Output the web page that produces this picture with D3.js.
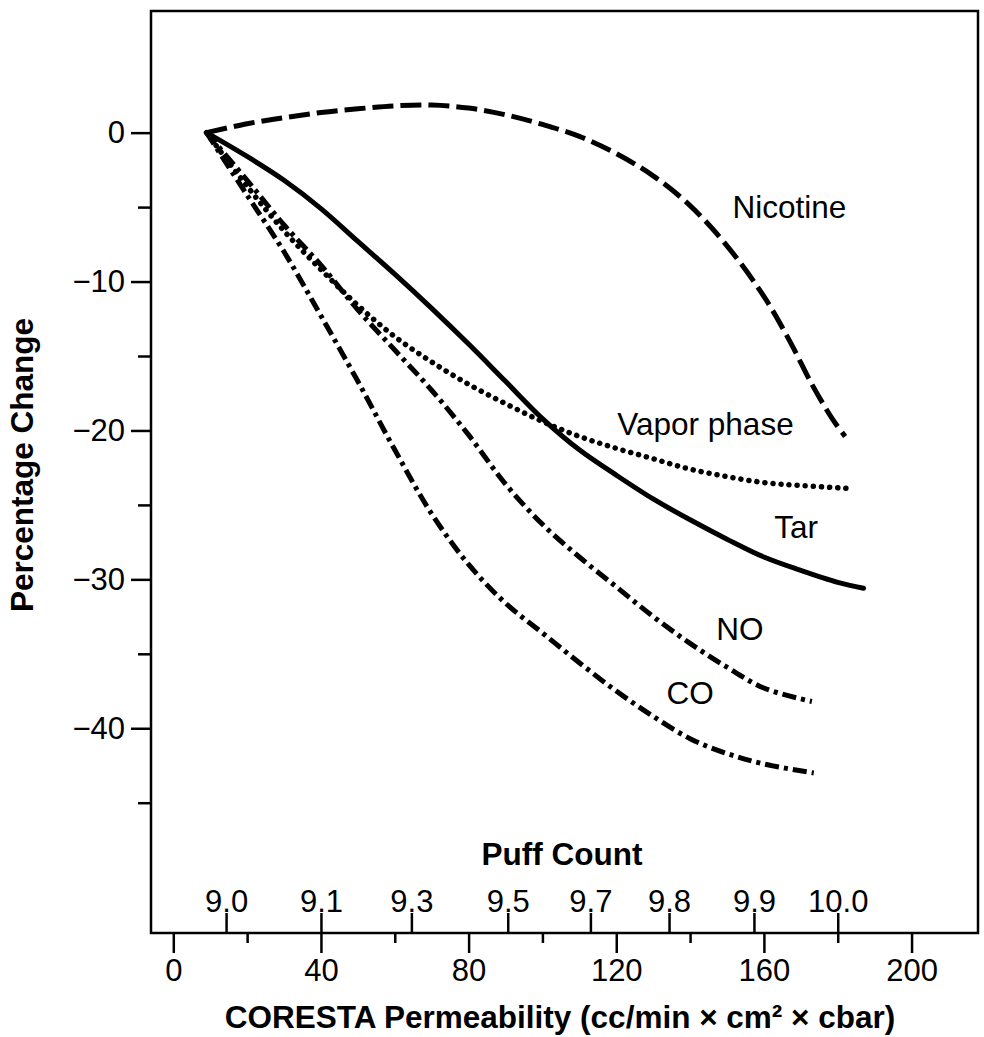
<!DOCTYPE html>
<html>
<head>
<meta charset="utf-8">
<script src="https://cdn.jsdelivr.net/npm/d3@7"></script>
<style>
  html, body { margin: 0; padding: 0; background: #fff; }
  svg { display: block; font-family: "Liberation Sans", Arial, Helvetica, sans-serif; }
</style>
</head>
<body>
<svg id="chart" width="984" height="1037"></svg>
<script>
// ---------------- DATA ----------------
// Series: [CORESTA permeability, percentage change]
const nicotine = [[9,0],[20,0.6],[30,1.0],[40,1.35],[50,1.6],[60,1.8],[70,1.85],[80,1.65],[90,1.2],[100,0.55],[110,-0.25],[120,-1.4],[130,-2.9],[140,-4.9],[150,-7.6],[160,-11.0],[167,-14.0],[173,-16.9],[178.5,-19.2],[182,-20.4]];
const vapor    = [[9,0],[20,-3.6],[30,-6.6],[40,-9.2],[50,-11.6],[60,-13.7],[70,-15.4],[80,-16.9],[90,-18.2],[100,-19.4],[110,-20.4],[120,-21.2],[130,-21.9],[140,-22.6],[150,-23.1],[160,-23.5],[170,-23.7],[184,-23.9]];
const tar      = [[9,0],[20,-1.6],[30,-3.2],[40,-5.1],[50,-7.3],[60,-9.5],[70,-11.8],[80,-14.2],[90,-16.7],[100,-19.2],[110,-21.3],[120,-23.0],[130,-24.6],[140,-26.0],[150,-27.3],[160,-28.5],[170,-29.4],[180,-30.2],[187,-30.6]];
const no       = [[9,0],[20,-3.2],[30,-6.2],[40,-8.9],[50,-11.9],[60,-14.6],[70,-17.3],[80,-20.3],[90,-23.6],[100,-26.3],[110,-28.5],[120,-30.5],[130,-32.5],[140,-34.3],[150,-35.9],[160,-37.3],[173,-38.2]];
const co       = [[9,0],[20,-4.2],[30,-8.0],[40,-12.3],[50,-16.7],[60,-21.3],[70,-25.6],[80,-29.0],[90,-31.6],[100,-33.6],[110,-35.6],[120,-37.5],[130,-39.2],[140,-40.7],[150,-41.7],[160,-42.4],[173.5,-43.0]];

const seriesNames = ["Nicotine", "Vapor phase", "Tar", "NO", "CO"];

// Axis ticks
const yMajorTicks = [0, -10, -20, -30, -40];
const yMinorTicks = [-5, -15, -25, -35, -45];
const corestaMajorTicks = [0, 40, 80, 120, 160, 200];
const corestaMinorTicks = [20, 60, 100, 140, 180];
const puffLabels = ["9.0", "9.1", "9.3", "9.5", "9.7", "9.8", "9.9", "10.0"];
const puffPositions = [14.3, 40, 64.5, 90.6, 113, 134.3, 157.3, 180]; // on the CORESTA scale

// ---------------- LAYOUT ----------------
const W = 984, H = 1037;
const margin = { left: 151, top: 11, right: 6, bottom: 104 };
const iw = W - margin.left - margin.right;
const ih = H - margin.top - margin.bottom;

const svg = d3.select("#chart");
const g = svg.append("g").attr("transform", `translate(${margin.left},${margin.top})`);

const x = d3.scaleLinear().domain([-6.04, 218.0]).range([0, iw]);
const y = d3.scaleLinear().domain([8.17, -53.75]).range([0, ih]);

const tickFont = 31;
const FONT = "Liberation Sans, Arial, sans-serif";

function styleAxis(sel) {
  sel.select(".domain").remove();
  sel.selectAll("line").attr("stroke", "#000").attr("stroke-width", 2.5);
  sel.selectAll("text").attr("font-size", tickFont).attr("fill", "#000").attr("font-family", FONT);
}

// Y axis major
g.append("g")
  .call(d3.axisLeft(y).tickValues(yMajorTicks).tickSize(20).tickPadding(6).tickFormat(d3.format("d")))
  .call(styleAxis);

// Y axis minor
g.append("g")
  .call(d3.axisLeft(y).tickValues(yMinorTicks).tickSize(13).tickFormat(""))
  .call(styleAxis);

// Bottom CORESTA axis (major)
g.append("g").attr("transform", `translate(0,${ih})`)
  .call(d3.axisBottom(x).tickValues(corestaMajorTicks).tickSize(20).tickPadding(6).tickFormat(d3.format("d")))
  .call(styleAxis);

// Bottom CORESTA axis (minor)
g.append("g").attr("transform", `translate(0,${ih})`)
  .call(d3.axisBottom(x).tickValues(corestaMinorTicks).tickSize(10).tickFormat(""))
  .call(styleAxis);

// Puff count axis (inside, above the bottom line)
g.append("g").attr("transform", `translate(0,${ih})`)
  .call(d3.axisTop(x).tickValues(puffPositions).tickSize(20).tickPadding(1)
    .tickFormat((d, i) => puffLabels[i]))
  .call(styleAxis);

// Frame
g.append("rect").attr("x", 0).attr("y", 0).attr("width", iw).attr("height", ih)
  .attr("fill", "none").attr("stroke", "#000").attr("stroke-width", 2.5);

// Lines
const line = d3.line().x(d => x(d[0])).y(d => y(d[1])).curve(d3.curveCatmullRom.alpha(0.5));

const series = [
  { name: seriesNames[0], data: nicotine, dash: "21,7", cap: "butt", w: 5 },
  { name: seriesNames[1], data: vapor, dash: "0.1,8", cap: "round", w: 5.5 },
  { name: seriesNames[2], data: tar, dash: null, cap: "round", w: 5 },
  { name: seriesNames[3], data: no, dash: "14,5,4,5", cap: "butt", w: 5 },
  { name: seriesNames[4], data: co, dash: "14,5,4,5", cap: "butt", w: 5 }
];

g.selectAll("path.series").data(series).enter().append("path")
  .attr("class", "series")
  .attr("d", d => line(d.data))
  .attr("fill", "none")
  .attr("stroke", "#000")
  .attr("stroke-width", d => d.w)
  .attr("stroke-linecap", d => d.cap)
  .attr("stroke-linejoin", "round")
  .attr("stroke-dasharray", d => d.dash);

// Series labels (anchored in data space)
const labelAnchors = [[151.5, -5.7], [120.3, -20.3], [162.8, -27.2], [147.1, -34.1], [133.6, -38.4]];
g.selectAll("text.lbl").data(seriesNames).enter().append("text")
  .attr("class", "lbl")
  .attr("x", (d, i) => x(labelAnchors[i][0]))
  .attr("y", (d, i) => y(labelAnchors[i][1]))
  .attr("font-size", 31.5)
  .attr("fill", "#000")
  .text(d => d);

// Axis titles
svg.append("text")
  .attr("x", 562)
  .attr("y", 865)
  .attr("text-anchor", "middle")
  .attr("font-size", 31.5).attr("font-weight", "bold")
  .text("Puff Count");

svg.append("text")
  .attr("x", 560)
  .attr("y", 1028)
  .attr("text-anchor", "middle")
  .attr("font-size", 31.5).attr("font-weight", "bold")
  .text("CORESTA Permeability (cc/min × cm² × cbar)");

svg.append("text")
  .attr("transform", "translate(33,465) rotate(-90)")
  .attr("text-anchor", "middle")
  .attr("font-size", 31.5).attr("font-weight", "bold")
  .text("Percentage Change");
</script>
</body>
</html>
